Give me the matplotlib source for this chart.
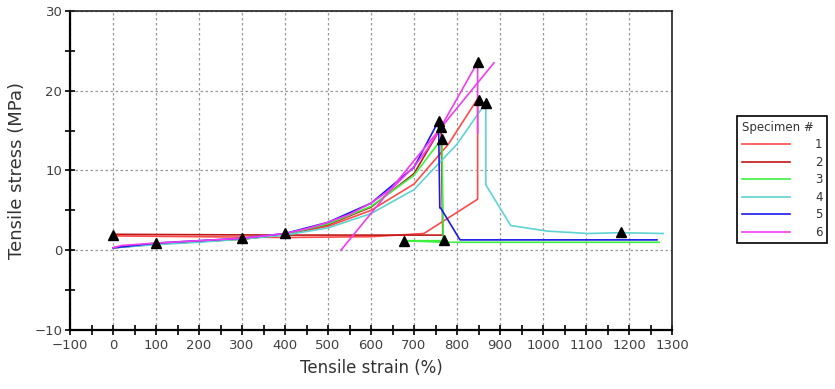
import matplotlib.pyplot as plt
import numpy as np

# 시편별 인장 곡선 (strain %, stress MPa) - 그림에서 읽은 값
spec1_x = [0, 100, 200, 300, 400, 500, 600, 700, 780, 848, 848, 723, 600, 400, 0]
spec1_y = [0.3, 0.8, 1.1, 1.4, 2.0, 3.0, 5.0, 8.3, 13.3, 19.0, 6.4, 2.1, 1.7, 1.6, 1.8]

spec2_x = [0, 100, 200, 300, 400, 500, 600, 700, 763, 767, 400, 0]
spec2_y = [0.3, 0.8, 1.1, 1.4, 2.0, 3.2, 5.4, 9.6, 15.4, 1.9, 1.9, 2.0]

spec3_x = [0, 100, 200, 300, 400, 500, 600, 700, 765, 768, 676, 768, 1270]
spec3_y = [0.3, 0.8, 1.1, 1.4, 2.0, 3.3, 5.5, 9.4, 14.0, 1.2, 1.2, 1.0, 1.0]

spec4_x = [0, 100, 200, 300, 400, 500, 600, 700, 800, 867, 867, 925, 1010, 1105, 1180, 1280]
spec4_y = [0.3, 0.7, 1.0, 1.4, 1.9, 2.8, 4.6, 7.6, 13.3, 18.5, 8.2, 3.1, 2.4, 2.1, 2.2, 2.1]

spec5_x = [0, 100, 200, 300, 400, 500, 600, 700, 757, 760, 762, 807, 1265]
spec5_y = [0.3, 0.9, 1.2, 1.5, 2.1, 3.5, 5.9, 10.4, 16.2, 5.3, 5.3, 1.3, 1.3]

spec6_x = [0, 20, 100, 200, 300, 400, 450, 500, 550, 600, 650, 700, 730, 760, 800, 848, 848]
spec6_y = [0.3, 0.6, 0.9, 1.2, 1.5, 2.1, 2.7, 3.5, 4.5, 5.9, 7.8, 10.5, 12.6, 15.2, 19.0, 23.6, 14.7]
spec6_fit_x = [530, 886]
spec6_fit_y = [0.0, 23.5]

# 삼각형 마커 위치
mark_x = [0, 100, 300, 400, 676, 769, 757, 763, 765, 848, 850, 867, 1182]
mark_y = [1.9, 0.9, 1.5, 2.2, 1.2, 1.3, 16.2, 15.4, 14.0, 23.6, 18.9, 18.5, 2.3]

labels = ['1', '2', '3', '4', '5', '6']
colors = ['#ff4a4a', '#c01818', '#3ef03e', '#5fd2d2', '#1a1aee', '#f23cf2']

fig = plt.figure(figsize=(8.35, 3.89), dpi=100)
ax = fig.add_axes([70 / 835, 1 - 330 / 389, 602 / 835, 319 / 389])

series = [(spec1_x, spec1_y), (spec2_x, spec2_y), (spec3_x, spec3_y),
          (spec4_x, spec4_y), (spec5_x, spec5_y), (spec6_x, spec6_y)]
for (xs, ys), c, lab in zip(series, colors, labels):
    ax.plot(xs, ys, color=c, linewidth=1.2, label=lab)
ax.plot(spec6_fit_x, spec6_fit_y, color=colors[5], linewidth=1.2)

ax.plot(mark_x, mark_y, linestyle='none', marker='^', color='black', markersize=6.5)

ax.set_xlim(-100, 1300)
ax.set_ylim(-10, 30)
ax.set_xticks(np.arange(-100, 1301, 100))
ax.set_xticks(np.arange(-100, 1301, 50), minor=True)
ax.set_yticks([-10, 0, 10, 20, 30])
ax.set_yticks(np.arange(-10, 31, 5), minor=True)
ax.tick_params(which='both', direction='inout', length=7, width=1.2, color='black',
               labelsize=9.5, labelcolor='#404040')
ax.tick_params(axis='x', pad=3)
ax.tick_params(axis='y', pad=2)
ax.grid(True, which='major', linestyle=(0, (2, 2)), color='#999999', linewidth=0.9)

for side in ['left', 'bottom']:
    ax.spines[side].set_linewidth(1.6)
for side in ['top', 'right']:
    ax.spines[side].set_linewidth(1.2)
    ax.spines[side].set_color('#222222')

ax.set_xlabel('Tensile strain (%)', fontsize=12, color='#333333', labelpad=5)
ax.set_ylabel('Tensile stress (MPa)', fontsize=13, color='#333333', labelpad=6)

leg = fig.legend(loc='upper left', bbox_to_anchor=(737 / 835, 1 - 116 / 389),
                 borderaxespad=0, title='Specimen #', fontsize=8.5, title_fontsize=8.5,
                 handlelength=4.1, handletextpad=2.1, labelspacing=0.38,
                 borderpad=0.4, fancybox=False, edgecolor='black',
                 framealpha=1)
leg.get_frame().set_linewidth(1.2)
leg._legend_box.align = 'left'
for t in leg.get_texts():
    t.set_color('#333333')
leg.get_title().set_color('#333333')

plt.savefig('out.png', dpi=100, facecolor='white')
